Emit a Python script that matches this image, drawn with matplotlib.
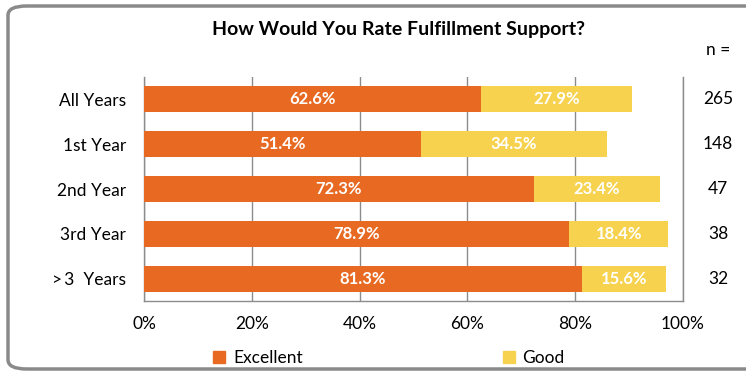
import matplotlib
matplotlib.use('Agg')
import matplotlib.pyplot as plt
from matplotlib.patches import FancyBboxPatch, Patch

# データ
categories = ["All Years", "1st Year", "2nd Year", "3rd Year", ">\u20093  Years"]
excellent = [62.6, 51.4, 72.3, 78.9, 81.3]
good = [27.9, 34.5, 23.4, 18.4, 15.6]
n_counts = [265, 148, 47, 38, 32]

orange = "#E86A22"
yellow = "#F6D24E"
grid_c = "#8C8C8C"

plt.rcParams['font.family'] = ['Lato', 'DejaVu Sans']

fig = plt.figure(figsize=(7.46, 3.72), dpi=100)

# 外枠
frame = FancyBboxPatch((8 / 746, 3 / 372), 760 / 746, 363 / 372,
                       boxstyle="round,pad=0,rounding_size=0.025",
                       transform=fig.transFigure, facecolor="none",
                       edgecolor="#8A8A8A", linewidth=2.5, zorder=-1)
fig.patches.append(frame)

ax = fig.add_axes([144 / 746, 1 - 301 / 372, 539 / 746, 224 / 372])
ax.set_facecolor("none")

y = list(range(len(categories)))
ax.barh(y, excellent, height=0.58, color=orange, zorder=3, label="Excellent")
ax.barh(y, good, left=excellent, height=0.58, color=yellow, zorder=3, label="Good")

for i in y:
    ax.text(excellent[i] / 2, i, f"{excellent[i]:.1f}%", ha="center", va="center",
            color="white", fontsize=12, fontweight="bold", zorder=4)
    ax.text(excellent[i] + good[i] / 2, i, f"{good[i]:.1f}%", ha="center", va="center",
            color="white", fontsize=12, fontweight="bold", zorder=4)
    ax.text(1.065, i, str(n_counts[i]), transform=ax.get_yaxis_transform(),
            ha="center", va="center", fontsize=12.5, color="black")

ax.text(1.065, 1.12, "n =", transform=ax.transAxes, ha="center", va="center",
        fontsize=12.5, color="black")

ax.set_xlim(0, 100)
ax.set_ylim(4.5, -0.5)
ax.set_xticks([0, 20, 40, 60, 80, 100])
ax.set_xticklabels(["0%", "20%", "40%", "60%", "80%", "100%"])
ax.set_yticks(y)
ax.set_yticklabels(categories)
ax.tick_params(axis="both", length=0, labelsize=12.5, colors="black")
ax.tick_params(axis="x", pad=11)
ax.tick_params(axis="y", pad=13)

ax.grid(axis="x", color=grid_c, linewidth=1, zorder=0)
ax.spines["top"].set_visible(False)
for s in ["left", "bottom", "right"]:
    ax.spines[s].set_color(grid_c)
    ax.spines[s].set_linewidth(1)

fig.text(399 / 746, 1 - 30 / 372, "How Would You Rate Fulfillment Support?",
         ha="center", va="center", fontsize=14, fontweight="bold")

handles = [Patch(color=orange, label="Excellent"), Patch(color=yellow, label="Good")]
leg = fig.legend(handles=handles, loc="center", bbox_to_anchor=(389 / 746, 1 - 358 / 372),
                 ncol=2, frameon=False, fontsize=12.5, handlelength=0.7, handleheight=0.7,
                 handletextpad=0.45, columnspacing=11.5)

plt.savefig("out.png", dpi=100)
